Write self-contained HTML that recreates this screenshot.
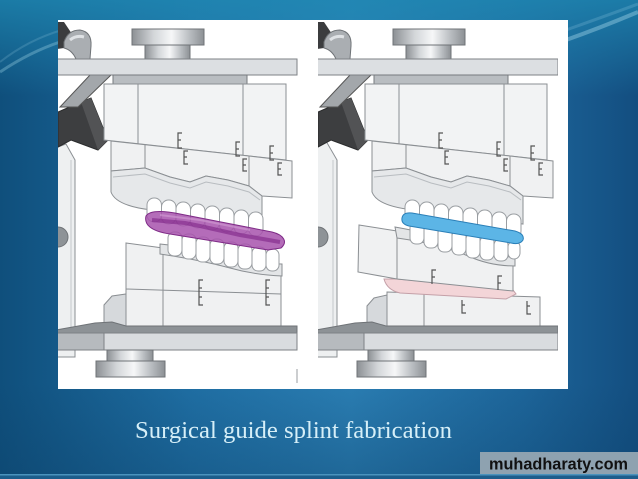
<!DOCTYPE html>
<html><head><meta charset="utf-8">
<style>
html,body{margin:0;padding:0;background:#1b6a9c;}
svg{display:block;}
</style></head>
<body>
<svg width="638" height="479" viewBox="0 0 638 479" xmlns="http://www.w3.org/2000/svg">
<defs>
<linearGradient id="bgH" x1="0" y1="0" x2="1" y2="0">
<stop offset="0" stop-color="#0f4f7c"/>
<stop offset="0.3" stop-color="#1f6ea3"/>
<stop offset="0.55" stop-color="#2a7db2"/>
<stop offset="0.82" stop-color="#1d659a"/>
<stop offset="1" stop-color="#134e80"/>
</linearGradient>
<linearGradient id="bgV" x1="0" y1="0" x2="0" y2="1">
<stop offset="0" stop-color="#1f8ab4" stop-opacity="0.75"/>
<stop offset="0.2" stop-color="#1f8ab4" stop-opacity="0"/>
<stop offset="0.8" stop-color="#0c3f66" stop-opacity="0"/>
<stop offset="1" stop-color="#0c3f66" stop-opacity="0.35"/>
</linearGradient>
<linearGradient id="knob" x1="0" y1="0" x2="1" y2="0">
<stop offset="0" stop-color="#8c9094"/>
<stop offset="0.3" stop-color="#d3d6d9"/>
<stop offset="0.55" stop-color="#f6f7f8"/>
<stop offset="0.8" stop-color="#b9bdc1"/>
<stop offset="1" stop-color="#8c9094"/>
</linearGradient>
<clipPath id="cl"><rect x="58" y="20" width="240" height="369"/></clipPath>
<clipPath id="cr"><rect x="318" y="20" width="240" height="369"/></clipPath>
</defs>

<!-- background -->
<rect width="638" height="479" fill="url(#bgH)"/>
<rect width="638" height="479" fill="url(#bgV)"/>
<path d="M0,72 Q30,52 60,42" stroke="#9fd3e6" stroke-opacity="0.35" stroke-width="3" fill="none"/>
<path d="M0,62 Q28,40 62,30" stroke="#9fd3e6" stroke-opacity="0.2" stroke-width="2" fill="none"/>
<path d="M566,40 Q600,28 638,12" stroke="#a9dcee" stroke-opacity="0.4" stroke-width="4" fill="none"/>
<path d="M566,30 Q600,18 638,4" stroke="#a9dcee" stroke-opacity="0.2" stroke-width="3" fill="none"/>
<rect x="0" y="474" width="638" height="1.5" fill="#4a93bd"/>
<rect x="0" y="475.5" width="638" height="3.5" fill="#1c5d8b"/>

<!-- white panel -->
<rect x="58" y="20" width="510" height="369" fill="#ffffff"/>

<!-- ================= LEFT IMAGE ================= -->
<g clip-path="url(#cl)" stroke="#8b8f93" stroke-width="1">
  <path d="M50,150 L66,144 L75,160 L75,357 L50,357 Z" fill="#eef0f1"/>
  <line x1="71" y1="160" x2="71" y2="350" stroke="#c4c7ca"/>
  <circle cx="58" cy="237" r="10" fill="#8e9397" stroke="#6f7377"/>
  <path d="M50,22 L64,22 L72,34 L64,48 L50,50 Z" fill="#3b3c3e" stroke="none"/>
  <path d="M64,42 Q68,30 80,30 Q92,32 91,46 L90,59 L76,59 Q72,50 64,48 Z" fill="#aaaeb2" stroke="#6f7377"/>
  <path d="M70,40 Q76,35 84,37" stroke="#dfe2e5" stroke-width="3" fill="none"/>
  <path d="M58,112 L81,102 L91,98 L108,140 L98,150 L71,140 L58,147 Z" fill="#3d3e40" stroke="#2a2b2c"/>
  <path d="M81,102 L91,98 L108,140 L98,150 Z" fill="#525355" stroke="none"/>
  <path d="M60,107 L90,75 L111,75 L78,107 Z" fill="#a3a7ab" stroke="#555"/>
  <rect x="145" y="44" width="45" height="15" fill="url(#knob)" stroke="#6f7377"/>
  <rect x="132" y="29" width="72" height="16" fill="url(#knob)" stroke="#6f7377"/>
  <rect x="56" y="59" width="241" height="16" fill="#dcdfe2" stroke="#7e8286"/>
  <rect x="113" y="75" width="134" height="9" fill="#b9bdc1" stroke="#767a7e"/>
  <polygon points="104,84 286,84 286,160 104,140" fill="#f2f3f4"/>
  <line x1="138" y1="84" x2="138" y2="144"/>
  <line x1="243" y1="84" x2="243" y2="155"/>
  <path d="M111,141 L249,156 L292,161 L292,198 L262,196 L249,186 L228,180 L206,176 L190,182 L170,177 L145,168 L111,171 Z" fill="#f0f1f2"/>
  <line x1="145" y1="144" x2="145" y2="168"/>
  <line x1="249" y1="156" x2="249" y2="186"/>
  <path d="M111,171 L145,168 L170,177 L190,182 L206,176 L228,180 L249,186 L262,196 L262,224 L152,210 Q116,206 111,192 Z" fill="#e6e8ea"/>
  <path d="M113,177 L145,174 L170,183 L190,188 L206,182 L228,186 L249,192 L260,200" fill="none" stroke="#b8bcc0"/>
  <g fill="none" stroke="#555" stroke-width="1.2">
    <path d="M182,133 L178,133 L178,148 L182,148 M178,140 L181,140"/>
    <path d="M188,151 L184,151 L184,164 L188,164 M184,157 L187,157"/>
    <path d="M240,142 L236,142 L236,156 L240,156 M236,149 L239,149"/>
    <path d="M247,159 L243,159 L243,171 L247,171 M243,165 L246,165"/>
    <path d="M274,146 L270,146 L270,160 L274,160 M270,153 L273,153"/>
    <path d="M282,163 L278,163 L278,175 L282,175 M278,169 L281,169"/>
  </g>
  <polygon points="126,243 163,248 281,268 281,328 126,328" fill="#f0f1f2"/>
  <line x1="163" y1="248" x2="163" y2="328"/>
  <line x1="126" y1="289" x2="281" y2="294"/>
  <g fill="none" stroke="#555" stroke-width="1.2">
    <path d="M203,280 L199,280 L199,305 L203,305 M199,288 L202,288 M199,297 L202,297"/>
    <path d="M270,280 L266,280 L266,305 L270,305 M266,288 L269,288 M266,297 L269,297"/>
  </g>
  <path d="M160,244 Q200,248 230,256 Q260,264 282,264 L282,276 Q255,275 230,268 Q200,260 160,254 Z" fill="#e3e5e7"/>
  <g fill="#ffffff" stroke="#9a9ea2">
    <rect x="168" y="232" width="14" height="24" rx="6"/>
    <rect x="182" y="234" width="14" height="25" rx="6"/>
    <rect x="196" y="237" width="14" height="25" rx="6"/>
    <rect x="210" y="239" width="14" height="25" rx="6"/>
    <rect x="224" y="242" width="14" height="25" rx="6"/>
    <rect x="238" y="244" width="14" height="25" rx="6"/>
    <rect x="252" y="247" width="14" height="24" rx="6"/>
    <rect x="266" y="249" width="13" height="22" rx="6"/>
  </g>
  <g fill="#ffffff" stroke="#9a9ea2">
    <rect x="147" y="198" width="14.5" height="24" rx="7"/>
    <rect x="161.5" y="200" width="14.5" height="24" rx="7"/>
    <rect x="176" y="202" width="14.5" height="24" rx="7"/>
    <rect x="190.5" y="204" width="14.5" height="24" rx="7"/>
    <rect x="205" y="206" width="14.5" height="24" rx="7"/>
    <rect x="219.5" y="208" width="14.5" height="24" rx="7"/>
    <rect x="234" y="210" width="14.5" height="24" rx="7"/>
    <rect x="248.5" y="212" width="14.5" height="24" rx="7"/>
  </g>
  <path d="M146,216 C150,210 165,211 180,214 L272,232 C284,235 288,242 281,248 L268,250 L170,234 C150,231 144,224 146,216 Z" fill="#a752ad" fill-opacity="0.85" stroke="#7e2a86"/>
  <path d="M152,220 L185,223 L200,226 L240,235 L280,242" fill="none" stroke="#7a1f84" stroke-width="4" stroke-opacity="0.55"/>
  <path d="M160,215 L200,220 L250,230" fill="none" stroke="#d7a6da" stroke-width="2" stroke-opacity="0.5"/>
  <path d="M104,328 L104,305 L112,296 L126,294 L126,328 Z" fill="#d6d9dc"/>
  <path d="M56,333 L56,330 L95,323 L112,322 L126,326 L297,326 L297,333 Z" fill="#8d9296" stroke="#6f7377"/>
  <rect x="56" y="333" width="241" height="17" fill="#d9dcdf" stroke="#7d8185"/>
  <rect x="56" y="333" width="48" height="17" fill="#b6babe" stroke="#7d8185"/>
  <rect x="107" y="350" width="46" height="12" fill="url(#knob)" stroke="#6f7377"/>
  <rect x="96" y="361" width="69" height="16" fill="url(#knob)" stroke="#6f7377"/>
  <line x1="297" y1="369" x2="297" y2="383" stroke="#9a9ea2"/>
</g>

<!-- ================= RIGHT IMAGE ================= -->
<g clip-path="url(#cr)" stroke="#8b8f93" stroke-width="1">
  <path d="M310,150 L326,141 L337,160 L337,357 L310,357 Z" fill="#eef0f1"/>
  <line x1="333" y1="160" x2="333" y2="350" stroke="#c4c7ca"/>
  <circle cx="318" cy="237" r="10" fill="#8e9397" stroke="#6f7377"/>
  <path d="M310,22 L324,22 L332,34 L324,48 L310,50 Z" fill="#3b3c3e" stroke="none"/>
  <path d="M324,42 Q328,30 340,30 Q352,32 351,46 L350,59 L336,59 Q332,50 324,48 Z" fill="#aaaeb2" stroke="#6f7377"/>
  <path d="M330,40 Q336,35 344,37" stroke="#dfe2e5" stroke-width="3" fill="none"/>
  <path d="M318,112 L341,102 L351,98 L368,140 L358,150 L331,140 L318,147 Z" fill="#3d3e40" stroke="#2a2b2c"/>
  <path d="M341,102 L351,98 L368,140 L358,150 Z" fill="#525355" stroke="none"/>
  <path d="M320,107 L350,75 L371,75 L338,107 Z" fill="#a3a7ab" stroke="#555"/>
  <rect x="406" y="44" width="45" height="15" fill="url(#knob)" stroke="#6f7377"/>
  <rect x="393" y="29" width="72" height="16" fill="url(#knob)" stroke="#6f7377"/>
  <rect x="316" y="59" width="242" height="16" fill="#dcdfe2" stroke="#7e8286"/>
  <rect x="374" y="75" width="134" height="9" fill="#b9bdc1" stroke="#767a7e"/>
  <polygon points="365,84 547,84 547,160 365,140" fill="#f2f3f4"/>
  <line x1="399" y1="84" x2="399" y2="144"/>
  <line x1="504" y1="84" x2="504" y2="155"/>
  <path d="M372,141 L510,156 L553,161 L553,198 L523,196 L510,186 L489,180 L467,176 L451,182 L431,177 L406,168 L372,171 Z" fill="#f0f1f2"/>
  <line x1="406" y1="144" x2="406" y2="168"/>
  <line x1="510" y1="156" x2="510" y2="186"/>
  <path d="M372,171 L406,168 L431,177 L451,182 L467,176 L489,180 L510,186 L523,196 L523,224 L413,210 Q377,206 372,192 Z" fill="#e6e8ea"/>
  <path d="M374,177 L406,174 L431,183 L451,188 L467,182 L489,186 L510,192 L521,200" fill="none" stroke="#b8bcc0"/>
  <g fill="none" stroke="#555" stroke-width="1.2">
    <path d="M443,133 L439,133 L439,148 L443,148 M439,140 L442,140"/>
    <path d="M449,151 L445,151 L445,164 L449,164 M445,157 L448,157"/>
    <path d="M501,142 L497,142 L497,156 L501,156 M497,149 L500,149"/>
    <path d="M508,159 L504,159 L504,171 L508,171 M504,165 L507,165"/>
    <path d="M535,146 L531,146 L531,160 L535,160 M531,153 L534,153"/>
    <path d="M543,163 L539,163 L539,175 L543,175 M539,169 L542,169"/>
  </g>
  <path d="M367,328 L367,306 L374,298 L387,295 L387,328 Z" fill="#d6d9dc"/>
  <polygon points="387,292 540,297 540,328 387,328" fill="#f0f1f2"/>
  <line x1="424" y1="293" x2="424" y2="328"/>
  <path d="M384,279 L397,279 L513,290 L516,294 L506,299 L400,293 Q387,290 384,279 Z" fill="#f3d5d8" stroke="#c4a0a8"/>
  <polygon points="359,225 397,231 513,263 513,291 397,279 358,272" fill="#f0f1f2"/>
  <line x1="397" y1="231" x2="397" y2="279"/>
  <g fill="none" stroke="#555" stroke-width="1.2">
    <path d="M436,270 L432,270 L432,284 M432,277 L435,277"/>
    <path d="M502,276 L498,276 L498,290 M498,283 L501,283"/>
    <path d="M462,300 L462,313 L466,313 M462,305 L465,305"/>
    <path d="M527,301 L527,314 L531,314 M527,306 L530,306"/>
  </g>
  <path d="M395,227 Q440,235 470,247 Q495,257 515,257 L515,266 Q490,266 468,256 Q440,244 397,238 Z" fill="#e3e5e7"/>
  <g fill="#ffffff" stroke="#9a9ea2">
    <rect x="410" y="222" width="14" height="22" rx="6"/>
    <rect x="424" y="224" width="14" height="24" rx="6"/>
    <rect x="438" y="227" width="14" height="25" rx="6"/>
    <rect x="452" y="230" width="14" height="25" rx="6"/>
    <rect x="466" y="233" width="14" height="25" rx="6"/>
    <rect x="480" y="236" width="14" height="24" rx="6"/>
    <rect x="494" y="239" width="14" height="22" rx="6"/>
    <rect x="508" y="241" width="12" height="18" rx="6"/>
  </g>
  <g fill="#ffffff" stroke="#9a9ea2">
    <rect x="405" y="200" width="14.5" height="22" rx="7"/>
    <rect x="419.5" y="202" width="14.5" height="22" rx="7"/>
    <rect x="434" y="204" width="14.5" height="23" rx="7"/>
    <rect x="448.5" y="206" width="14.5" height="23" rx="7"/>
    <rect x="463" y="208" width="14.5" height="24" rx="7"/>
    <rect x="477.5" y="210" width="14.5" height="24" rx="7"/>
    <rect x="492" y="212" width="14.5" height="24" rx="7"/>
    <rect x="506.5" y="214" width="14.5" height="24" rx="7"/>
  </g>
  <path d="M402,218 Q403,212 412,213 L515,231 Q525,234 523,240 Q520,245 511,243 L409,226 Q401,224 402,218 Z" fill="#5cb5e6" stroke="#2a7fb8"/>
  <path d="M316,333 L316,330 L355,323 L372,322 L386,326 L558,326 L558,333 Z" fill="#8d9296" stroke="#6f7377"/>
  <rect x="316" y="333" width="242" height="17" fill="#d9dcdf" stroke="#7d8185"/>
  <rect x="316" y="333" width="48" height="17" fill="#b6babe" stroke="#7d8185"/>
  <rect x="368" y="350" width="46" height="12" fill="url(#knob)" stroke="#6f7377"/>
  <rect x="357" y="361" width="69" height="16" fill="url(#knob)" stroke="#6f7377"/>
</g>

<!-- caption -->
<text x="135" y="438" font-family="'Liberation Serif', serif" font-size="24.7" fill="#d6eff8">Surgical guide splint fabrication</text>

<!-- watermark -->
<rect x="480" y="452" width="158" height="22" fill="#8ea2b0"/>
<text x="489" y="469.5" font-family="'Liberation Sans', sans-serif" font-weight="bold" font-size="16.5" textLength="139" lengthAdjust="spacingAndGlyphs" fill="#111">muhadharaty.com</text>
</svg>
</body></html>
